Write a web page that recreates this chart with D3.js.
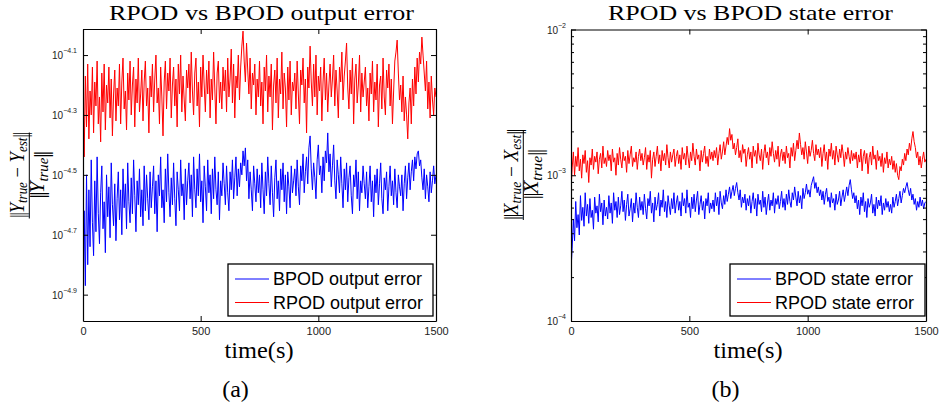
<!DOCTYPE html>
<html><head><meta charset="utf-8">
<script src="https://cdn.jsdelivr.net/npm/d3@7"></script>
<style>body{margin:0;background:#fff}svg{display:block}</style>
</head><body><svg id="c" width="942" height="408"></svg>
<script>
// ---------- data ----------
const timeDomain = [0, 1500];
const xTicks = [0, 500, 1000, 1500];
const outputTickExps = [-4.9, -4.7, -4.5, -4.3, -4.1];
const outputDomainExps = [-4.988, -4.013];
const stateTickExps = [-4, -3, -2];
const stateMinorTicks = [2e-4,3e-4,4e-4,5e-4,6e-4,7e-4,8e-4,9e-4,2e-3,3e-3,4e-3,5e-3,6e-3,7e-3,8e-3,9e-3];
const stateDomain = [1e-4, 1e-2];
const outputLegend = ["BPOD output error", "RPOD output error"];
const stateLegend = ["BPOD state error", "RPOD state error"];

// log10 of relative error, sampled uniformly over 0..1500 s (every 5 s)
const bpodOutputLog = [
-4.98,-4.62,-4.87,-4.50,-4.80,-4.55,-4.74,-4.45,-4.66,-4.77,-4.52,-4.69,-4.44,-4.63,-4.73,-4.56,-4.47,-4.68,-4.59,-4.76,-4.50,-4.64,-4.54,-4.71,-4.46,-4.60,-4.67,-4.53,-4.72,-4.58,
-4.49,-4.65,-4.55,-4.70,-4.48,-4.61,-4.53,-4.68,-4.46,-4.59,-4.66,-4.51,-4.63,-4.45,-4.57,-4.69,-4.52,-4.60,-4.48,-4.64,-4.55,-4.67,-4.47,-4.62,-4.50,-4.58,-4.65,-4.49,-4.61,-4.54,
-4.47,-4.63,-4.52,-4.69,-4.50,-4.57,-4.44,-4.61,-4.55,-4.66,-4.48,-4.59,-4.43,-4.56,-4.64,-4.51,-4.60,-4.46,-4.58,-4.67,-4.49,-4.55,-4.62,-4.45,-4.57,-4.53,-4.65,-4.48,-4.60,-4.52,
-4.46,-4.58,-4.50,-4.64,-4.44,-4.55,-4.61,-4.48,-4.57,-4.43,-4.59,-4.52,-4.66,-4.47,-4.54,-4.62,-4.45,-4.56,-4.50,-4.63,-4.48,-4.58,-4.44,-4.55,-4.60,-4.49,-4.65,-4.52,-4.57,-4.46,
-4.53,-4.60,-4.47,-4.56,-4.62,-4.49,-4.55,-4.45,-4.58,-4.51,-4.44,-4.57,-4.48,-4.54,-4.46,-4.50,-4.42,-4.47,-4.41,-4.52,-4.45,-4.58,-4.49,-4.55,-4.62,-4.47,-4.53,-4.59,-4.48,-4.56,
-4.50,-4.61,-4.46,-4.55,-4.63,-4.49,-4.57,-4.44,-4.53,-4.60,-4.47,-4.56,-4.64,-4.51,-4.45,-4.58,-4.52,-4.62,-4.48,-4.55,-4.46,-4.59,-4.50,-4.63,-4.49,-4.54,-4.61,-4.47,-4.56,-4.52,
-4.48,-4.57,-4.45,-4.54,-4.60,-4.47,-4.52,-4.43,-4.56,-4.49,-4.44,-4.53,-4.41,-4.37,-4.48,-4.55,-4.46,-4.51,-4.58,-4.45,-4.40,-4.50,-4.47,-4.56,-4.44,-4.52,-4.42,-4.46,-4.36,-4.49,
-4.43,-4.54,-4.47,-4.40,-4.52,-4.58,-4.45,-4.50,-4.56,-4.44,-4.53,-4.61,-4.48,-4.55,-4.46,-4.59,-4.51,-4.47,-4.57,-4.63,-4.50,-4.54,-4.45,-4.58,-4.49,-4.62,-4.52,-4.56,-4.47,-4.53,
-4.58,-4.49,-4.61,-4.54,-4.47,-4.59,-4.52,-4.64,-4.50,-4.56,-4.48,-4.60,-4.53,-4.46,-4.58,-4.63,-4.51,-4.55,-4.49,-4.62,-4.54,-4.47,-4.57,-4.52,-4.60,-4.48,-4.56,-4.61,-4.50,-4.54,
-4.57,-4.50,-4.62,-4.53,-4.47,-4.58,-4.51,-4.46,-4.55,-4.49,-4.45,-4.52,-4.44,-4.48,-4.43,-4.42,-4.47,-4.45,-4.51,-4.55,-4.48,-4.58,-4.50,-4.54,-4.59,-4.49,-4.56,-4.52,-4.47,-4.53,
-4.50
];
const rpodOutputLog = [
-4.21,-4.44,-4.17,-4.34,-4.13,-4.38,-4.22,-4.30,-4.14,-4.36,-4.19,-4.27,-4.12,-4.33,-4.24,-4.39,-4.16,-4.29,-4.13,-4.35,-4.20,-4.26,-4.14,-4.31,-4.18,-4.37,-4.23,-4.15,-4.32,-4.21,
-4.27,-4.13,-4.33,-4.19,-4.11,-4.28,-4.22,-4.35,-4.16,-4.25,-4.12,-4.30,-4.20,-4.14,-4.34,-4.18,-4.26,-4.11,-4.29,-4.23,-4.15,-4.32,-4.19,-4.12,-4.27,-4.21,-4.36,-4.17,-4.24,-4.13,
-4.29,-4.18,-4.10,-4.26,-4.21,-4.33,-4.14,-4.24,-4.37,-4.19,-4.12,-4.28,-4.16,-4.22,-4.11,-4.31,-4.20,-4.14,-4.27,-4.18,-4.34,-4.13,-4.23,-4.10,-4.29,-4.17,-4.25,-4.32,-4.15,-4.21,
-4.13,-4.26,-4.09,-4.22,-4.30,-4.16,-4.11,-4.27,-4.19,-4.34,-4.14,-4.24,-4.10,-4.20,-4.29,-4.15,-4.23,-4.12,-4.31,-4.18,-4.25,-4.09,-4.21,-4.33,-4.16,-4.12,-4.26,-4.19,-4.28,-4.14,
-4.22,-4.15,-4.29,-4.11,-4.24,-4.18,-4.08,-4.26,-4.13,-4.31,-4.17,-4.21,-4.10,-4.25,-4.14,-4.07,-4.02,-4.12,-4.19,-4.06,-4.15,-4.23,-4.11,-4.28,-4.16,-4.20,-4.13,-4.30,-4.18,-4.24,
-4.12,-4.27,-4.19,-4.33,-4.14,-4.22,-4.10,-4.29,-4.17,-4.24,-4.13,-4.35,-4.20,-4.15,-4.26,-4.11,-4.31,-4.18,-4.23,-4.09,-4.28,-4.16,-4.21,-4.34,-4.14,-4.25,-4.12,-4.30,-4.19,-4.22,
-4.16,-4.28,-4.12,-4.23,-4.33,-4.15,-4.20,-4.11,-4.26,-4.18,-4.36,-4.14,-4.21,-4.07,-4.19,-4.27,-4.13,-4.24,-4.10,-4.30,-4.17,-4.22,-4.14,-4.32,-4.19,-4.11,-4.25,-4.16,-4.29,-4.20,
-4.13,-4.24,-4.18,-4.10,-4.27,-4.15,-4.22,-4.31,-4.14,-4.19,-4.09,-4.25,-4.17,-4.12,-4.06,-4.21,-4.28,-4.15,-4.23,-4.11,-4.33,-4.18,-4.13,-4.26,-4.20,-4.10,-4.29,-4.16,-4.24,-4.19,
-4.14,-4.27,-4.21,-4.32,-4.16,-4.23,-4.12,-4.29,-4.19,-4.25,-4.13,-4.34,-4.20,-4.17,-4.28,-4.11,-4.24,-4.30,-4.15,-4.21,-4.13,-4.27,-4.18,-4.33,-4.22,-4.12,-4.09,-4.05,-4.16,-4.25,
-4.20,-4.29,-4.17,-4.32,-4.24,-4.30,-4.38,-4.26,-4.21,-4.33,-4.18,-4.27,-4.14,-4.23,-4.11,-4.19,-4.09,-4.13,-4.04,-4.10,-4.16,-4.22,-4.12,-4.28,-4.19,-4.31,-4.17,-4.25,-4.30,-4.21,
-4.24
];
const bpodStateLog = [
-3.65,-3.50,-3.30,-3.45,-3.18,-3.36,-3.27,-3.41,-3.14,-3.31,-3.22,-3.35,-3.12,-3.28,-3.20,-3.33,-3.16,-3.29,-3.24,-3.37,-3.15,-3.26,-3.21,-3.32,-3.13,-3.25,-3.19,-3.34,-3.17,-3.28,
-3.22,-3.30,-3.14,-3.26,-3.19,-3.33,-3.12,-3.24,-3.18,-3.29,-3.15,-3.27,-3.21,-3.11,-3.25,-3.17,-3.31,-3.20,-3.13,-3.28,-3.23,-3.16,-3.32,-3.19,-3.26,-3.12,-3.22,-3.29,-3.15,-3.24,
-3.18,-3.27,-3.13,-3.23,-3.30,-3.16,-3.21,-3.11,-3.26,-3.19,-3.32,-3.15,-3.24,-3.20,-3.12,-3.28,-3.17,-3.22,-3.10,-3.25,-3.18,-3.29,-3.14,-3.21,-3.27,-3.16,-3.23,-3.12,-3.26,-3.19,
-3.14,-3.24,-3.18,-3.28,-3.12,-3.21,-3.16,-3.26,-3.10,-3.22,-3.19,-3.29,-3.15,-3.23,-3.13,-3.25,-3.17,-3.11,-3.27,-3.20,-3.14,-3.24,-3.18,-3.30,-3.16,-3.21,-3.12,-3.26,-3.19,-3.23,
-3.17,-3.25,-3.12,-3.21,-3.15,-3.27,-3.11,-3.19,-3.23,-3.14,-3.20,-3.10,-3.18,-3.13,-3.08,-3.16,-3.11,-3.07,-3.14,-3.09,-3.05,-3.12,-3.17,-3.10,-3.22,-3.15,-3.19,-3.13,-3.24,-3.16,
-3.21,-3.14,-3.26,-3.18,-3.12,-3.23,-3.16,-3.28,-3.13,-3.20,-3.17,-3.25,-3.11,-3.22,-3.15,-3.27,-3.19,-3.13,-3.24,-3.17,-3.21,-3.12,-3.26,-3.16,-3.20,-3.14,-3.23,-3.18,-3.11,-3.22,
-3.16,-3.24,-3.13,-3.20,-3.10,-3.18,-3.22,-3.12,-3.17,-3.08,-3.15,-3.21,-3.11,-3.19,-3.14,-3.23,-3.09,-3.16,-3.12,-3.06,-3.13,-3.10,-3.15,-3.07,-3.04,-3.01,-3.09,-3.05,-3.12,-3.08,
-3.14,-3.10,-3.17,-3.11,-3.20,-3.13,-3.09,-3.18,-3.15,-3.22,-3.12,-3.19,-3.16,-3.24,-3.13,-3.20,-3.17,-3.11,-3.21,-3.15,-3.10,-3.18,-3.13,-3.08,-3.14,-3.07,-3.03,-3.10,-3.16,-3.12,
-3.19,-3.14,-3.23,-3.17,-3.27,-3.15,-3.21,-3.12,-3.25,-3.18,-3.29,-3.16,-3.22,-3.19,-3.13,-3.26,-3.20,-3.28,-3.15,-3.23,-3.17,-3.21,-3.14,-3.27,-3.19,-3.24,-3.16,-3.22,-3.18,-3.25,
-3.20,-3.26,-3.15,-3.22,-3.18,-3.13,-3.21,-3.16,-3.11,-3.19,-3.14,-3.09,-3.12,-3.08,-3.05,-3.10,-3.14,-3.09,-3.17,-3.13,-3.20,-3.16,-3.24,-3.18,-3.22,-3.15,-3.21,-3.17,-3.23,-3.19,
-3.18
];
const rpodStateLog = [
-3.10,-2.95,-2.84,-3.00,-2.87,-2.94,-2.81,-2.97,-2.89,-3.02,-2.86,-2.92,-2.83,-2.98,-2.90,-3.05,-2.88,-2.93,-2.82,-2.96,-2.87,-2.91,-2.84,-2.99,-2.89,-2.85,-2.95,-2.80,-2.92,-2.88,
-2.94,-2.83,-2.90,-2.86,-2.97,-2.82,-2.91,-2.88,-3.00,-2.85,-2.93,-2.81,-2.89,-2.95,-2.84,-2.90,-2.87,-2.98,-2.83,-2.92,-2.86,-2.80,-2.94,-2.88,-2.91,-2.84,-2.96,-2.87,-2.82,-2.90,
-2.85,-2.93,-2.88,-2.81,-2.96,-2.86,-2.91,-2.83,-3.02,-2.89,-2.84,-2.94,-2.87,-2.80,-2.92,-2.86,-2.97,-2.83,-2.90,-2.85,-2.93,-2.79,-2.88,-2.95,-2.84,-2.91,-2.86,-2.82,-2.94,-2.87,
-2.83,-2.92,-2.86,-2.96,-2.81,-2.89,-2.85,-2.93,-2.80,-2.88,-2.95,-2.84,-2.90,-2.78,-2.87,-2.93,-2.82,-2.89,-2.86,-2.97,-2.83,-2.91,-2.85,-2.80,-2.92,-2.87,-2.94,-2.82,-2.89,-2.84,
-2.90,-2.83,-2.88,-2.81,-2.93,-2.85,-2.79,-2.89,-2.84,-2.77,-2.86,-2.80,-2.74,-2.79,-2.68,-2.76,-2.72,-2.82,-2.78,-2.86,-2.81,-2.75,-2.88,-2.83,-2.91,-2.79,-2.85,-2.82,-2.94,-2.86,
-2.81,-2.89,-2.84,-2.95,-2.80,-2.87,-2.83,-2.92,-2.78,-2.86,-2.90,-2.82,-2.96,-2.85,-2.79,-2.88,-2.84,-2.93,-2.81,-2.87,-2.77,-2.85,-2.91,-2.83,-2.89,-2.80,-2.94,-2.86,-2.82,-2.90,
-2.84,-2.92,-2.80,-2.88,-2.85,-2.95,-2.81,-2.87,-2.78,-2.90,-2.83,-2.76,-2.82,-2.71,-2.79,-2.86,-2.81,-2.89,-2.77,-2.84,-2.92,-2.80,-2.87,-2.83,-2.76,-2.85,-2.90,-2.79,-2.86,-2.82,
-2.88,-2.81,-2.94,-2.85,-2.79,-2.90,-2.84,-2.96,-2.82,-2.87,-2.78,-2.89,-2.83,-2.93,-2.80,-2.86,-2.91,-2.82,-2.88,-2.79,-2.85,-2.94,-2.84,-2.89,-2.81,-2.87,-2.92,-2.83,-2.90,-2.85,
-2.89,-2.84,-2.95,-2.86,-2.91,-2.82,-2.97,-2.87,-2.83,-2.92,-2.85,-2.99,-2.88,-2.84,-2.93,-2.80,-2.89,-2.86,-2.96,-2.83,-2.90,-2.87,-2.94,-2.85,-2.98,-2.88,-2.92,-2.84,-2.95,-2.89,
-2.93,-2.87,-2.96,-2.90,-2.98,-2.92,-3.00,-3.03,-2.94,-2.97,-2.89,-2.93,-2.85,-2.90,-2.82,-2.86,-2.78,-2.83,-2.75,-2.70,-2.77,-2.81,-2.88,-2.84,-2.93,-2.87,-2.95,-2.89,-2.84,-2.91,
-2.89
];

// ---------- drawing ----------
const svg = d3.select("#c");
svg.append("rect").attr("width",942).attr("height",408).attr("fill","#fff");
const SANS = "'Liberation Sans', Arial, Helvetica, sans-serif";
const SERIF = "'Liberation Serif', 'DejaVu Serif', serif";
const pow10 = e => Math.pow(10, e);

function normBars(t) {
  t.append("tspan").attr("font-style", "normal").attr("letter-spacing", -1.5).text("||");
}

function drawPanel(p, idx) {
  const x = d3.scaleLinear().domain(timeDomain).range([p.left, p.right]);
  const y = d3.scaleLog().domain(p.yDomain).range([p.bottom, p.top]);
  const g = svg.append("g");
  const clipId = "clip" + idx;
  svg.append("clipPath").attr("id", clipId).append("rect")
    .attr("x", p.left).attr("y", p.top).attr("width", p.right - p.left).attr("height", p.bottom - p.top);

  p.series.forEach(s => {
    const n = s.values.length;
    const line = d3.line()
      .x((d, i) => x(timeDomain[0] + i * (timeDomain[1] - timeDomain[0]) / (n - 1)))
      .y(d => y(pow10(d)));
    g.append("path").attr("d", line(s.values)).attr("fill", "none")
      .attr("stroke", s.color).attr("stroke-width", 1)
      .attr("clip-path", `url(#${clipId})`);
  });

  const styleAxis = sel => {
    sel.attr("font-family", SANS).attr("font-size", 11);
    sel.selectAll("path.domain").attr("stroke", "#000").attr("stroke-width", 1.2);
    sel.selectAll(".tick line").attr("stroke", "#000").attr("stroke-width", 1);
    sel.selectAll(".tick text").attr("fill", "#222");
  };
  g.append("g").attr("transform", `translate(0,${p.bottom})`)
    .call(d3.axisBottom(x).tickValues(xTicks).tickSizeInner(-5).tickSizeOuter(0).tickPadding(6).tickFormat(d3.format("d")))
    .call(styleAxis);
  g.append("g").attr("transform", `translate(0,${p.top})`)
    .call(d3.axisTop(x).tickValues(xTicks).tickSizeInner(-5).tickSizeOuter(0).tickFormat(""))
    .call(styleAxis);
  const majors = p.majorExps.map(pow10);
  g.append("g").attr("transform", `translate(${p.left},0)`)
    .call(d3.axisLeft(y).tickValues(majors).tickSizeInner(-5).tickSizeOuter(0).tickFormat(""))
    .call(styleAxis);
  g.append("g").attr("transform", `translate(${p.right},0)`)
    .call(d3.axisRight(y).tickValues(majors).tickSizeInner(-5).tickSizeOuter(0).tickFormat(""))
    .call(styleAxis);
  if (p.minor) {
    g.append("g").attr("transform", `translate(${p.left},0)`)
      .call(d3.axisLeft(y).tickValues(p.minor).tickSizeInner(-3).tickSizeOuter(0).tickFormat(""))
      .call(styleAxis).call(s => s.select("path.domain").remove());
    g.append("g").attr("transform", `translate(${p.right},0)`)
      .call(d3.axisRight(y).tickValues(p.minor).tickSizeInner(-3).tickSizeOuter(0).tickFormat(""))
      .call(styleAxis).call(s => s.select("path.domain").remove());
  }
  p.majorExps.forEach(e => {
    const t = g.append("text").attr("x", p.left - p.labelGap).attr("y", y(pow10(e)) + 4)
      .attr("text-anchor", "end").attr("font-family", SANS).attr("font-size", 10).attr("fill", "#222");
    t.append("tspan").text("10");
    t.append("tspan").attr("dy", -6).attr("font-size", 7).text("\u2212" + String(Math.abs(e)));
  });

  // legend
  const L = p.legend;
  const lg = svg.append("g");
  lg.append("rect").attr("x", L.x).attr("y", L.y).attr("width", L.w).attr("height", L.h)
    .attr("fill", "#fff").attr("stroke", "#000").attr("stroke-width", 1.3);
  p.series.forEach((s, i) => {
    const ly = L.y + 15 + i * 23.5;
    lg.append("line").attr("x1", L.x + 7).attr("x2", L.x + 41).attr("y1", ly).attr("y2", ly)
      .attr("stroke", s.color).attr("stroke-width", 1);
    lg.append("text").attr("x", L.x + 45).attr("y", L.y + 21 + i * 24)
      .attr("font-family", SANS).attr("font-size", 18).attr("fill", "#000").text(s.label);
  });

  svg.append("text").attr("x", p.titleX).attr("y", 19.5).attr("text-anchor", "middle")
    .attr("font-family", SERIF).attr("font-size", 21).attr("textLength", p.titleLen)
    .attr("lengthAdjust", "spacingAndGlyphs").text(p.title);
  svg.append("text").attr("x", p.xlabX).attr("y", 358).attr("text-anchor", "middle")
    .attr("font-family", SERIF).attr("font-size", 23).attr("textLength", 69)
    .attr("lengthAdjust", "spacingAndGlyphs").text("time(s)");
  svg.append("text").attr("x", p.capX).attr("y", 397).attr("text-anchor", "middle")
    .attr("font-family", SERIF).attr("font-size", 24).text(p.caption);

  // y label fraction
  const Y = p.ylab;
  const yl = svg.append("g").attr("transform", `translate(${Y.cx},${Y.cy}) rotate(-90)`)
    .attr("font-family", SERIF).attr("font-size", 20).attr("fill", "#000");
  const num = yl.append("text").attr("x", 0).attr("y", -5.5).attr("text-anchor", "middle")
    .attr("textLength", Y.numLen).attr("lengthAdjust", "spacingAndGlyphs");
  normBars(num);
  num.append("tspan").attr("font-style", "italic").text(Y.letter);
  num.append("tspan").attr("dy", 3.5).attr("font-style", "italic").attr("font-size", 14).text("true");
  num.append("tspan").attr("dy", -3.5).text(" \u2212 ");
  num.append("tspan").attr("font-style", "italic").text(Y.letter);
  num.append("tspan").attr("dy", 3.5).attr("font-style", "italic").attr("font-size", 14).text("est");
  num.append("tspan").attr("dy", -3.5).text("");
  normBars(num);
  yl.append("line").attr("x1", -Y.len / 2).attr("x2", Y.len / 2).attr("y1", 0).attr("y2", 0)
    .attr("stroke", "#000").attr("stroke-width", 1);
  const den = yl.append("text").attr("x", 0).attr("y", 15).attr("text-anchor", "middle")
    .attr("textLength", Y.denLen).attr("lengthAdjust", "spacingAndGlyphs");
  normBars(den);
  den.append("tspan").attr("font-style", "italic").text(Y.letter);
  den.append("tspan").attr("dy", 3.5).attr("font-style", "italic").attr("font-size", 14).text("true");
  den.append("tspan").attr("dy", -3.5).text("");
  normBars(den);
}

drawPanel({
  left: 83, right: 436, top: 29, bottom: 321,
  yDomain: outputDomainExps.map(pow10), majorExps: outputTickExps, minor: null, labelGap: 6,
  series: [
    { values: bpodOutputLog, color: "#0000ff", label: outputLegend[0] },
    { values: rpodOutputLog, color: "#ff0000", label: outputLegend[1] }
  ],
  legend: { x: 228, y: 264, w: 205, h: 52 },
  title: "RPOD vs BPOD output error", titleX: 261.5, titleLen: 305,
  xlabX: 259, capX: 235.5, caption: "(a)",
  ylab: { cx: 29.3, cy: 175.5, letter: "Y", len: 86, numLen: 85, denLen: 46 }
}, 0);

drawPanel({
  left: 571, right: 926, top: 29.5, bottom: 321,
  yDomain: stateDomain, majorExps: stateTickExps, minor: stateMinorTicks, labelGap: 5,
  series: [
    { values: bpodStateLog, color: "#0000ff", label: stateLegend[0] },
    { values: rpodStateLog, color: "#ff0000", label: stateLegend[1] }
  ],
  legend: { x: 730, y: 264, w: 195, h: 52 },
  title: "RPOD vs BPOD state error", titleX: 750.5, titleLen: 285,
  xlabX: 748, capX: 725.5, caption: "(b)",
  ylab: { cx: 523.3, cy: 175, letter: "X", len: 90, numLen: 90, denLen: 49 }
}, 1);
</script></body></html>
